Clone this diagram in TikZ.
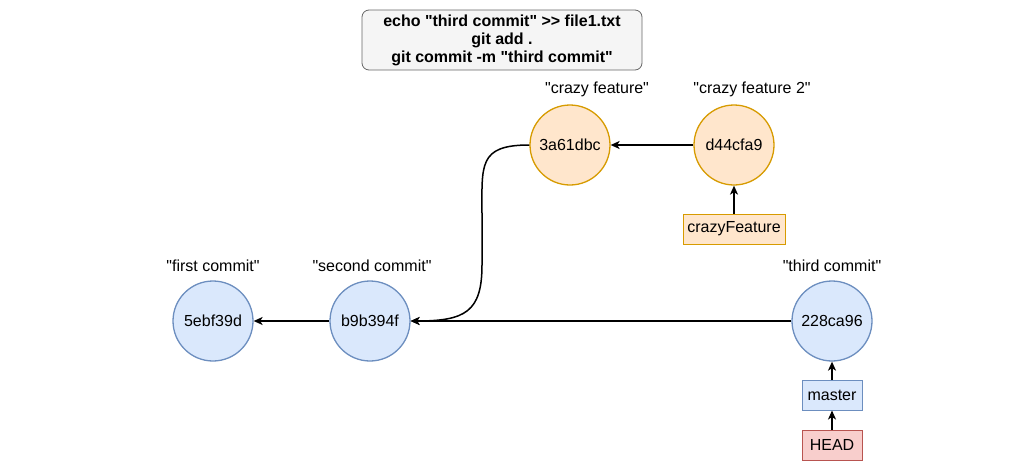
\documentclass[tikz,border=0pt]{standalone}
\usepackage{fontspec}
\setmainfont{Liberation Sans}[Ligatures=TeXOff]
\usetikzlibrary{arrows.meta}
\definecolor{bluefill}{HTML}{DAE8FC}
\definecolor{bluedraw}{HTML}{6C8EBF}
\definecolor{orfill}{HTML}{FFE6CC}
\definecolor{ordraw}{HTML}{D79B00}
\definecolor{redfill}{HTML}{F8CECC}
\definecolor{reddraw}{HTML}{B85450}
\definecolor{greyfill}{HTML}{F5F5F5}
\definecolor{greydraw}{HTML}{666666}
\newcommand{\dq}{\symbol{34}}
\tikzset{
  txt/.style={font=\fontsize{16}{18}\selectfont, inner sep=0pt},
  commitb/.style={circle, minimum size=80pt, inner sep=0pt, draw=bluedraw, fill=bluefill, line width=1.3pt, txt},
  commito/.style={circle, minimum size=80pt, inner sep=0pt, draw=ordraw, fill=orfill, line width=1.3pt, txt},
  refbox/.style={rectangle, minimum height=30pt, inner sep=0pt, line width=1pt, txt},
  conn/.style={line width=1.5pt, -{Stealth[length=9pt,width=8pt,inset=2.5pt]}},
}
\begin{document}
\begin{tikzpicture}[x=1pt,y=-1pt]
\useasboundingbox (0,0) rectangle (1010,472);
\node[rectangle, rounded corners=7pt, draw=greydraw, fill=greyfill, minimum width=280pt, minimum height=60pt, align=center, font=\bfseries\fontsize{16}{18}\selectfont, line width=0.8pt] (cmd) at (502,40) {echo \dq third commit\dq{} >{}> file1.txt\\git add .\\git commit -m \dq third commit\dq};

\node[commitb] (c1) at (213,321) {5ebf39d};
\node[commitb] (c2) at (370,321) {b9b394f};
\node[commitb] (c3) at (832,321) {228ca96};
\node[commito] (f1) at (570,145) {3a61dbc};
\node[commito] (f2) at (734,145) {d44cfa9};

\node[txt] (l1) at (213,266) {\dq first commit\dq};
\node[txt] (l2) at (372,266) {\dq second commit\dq};
\node[txt] (l3) at (832,266) {\dq third commit\dq};
\node[txt] (l4) at (597,89) {\dq crazy feature\dq};
\node[txt] (l5) at (752,89) {\dq crazy feature 2\dq};

\node[refbox, draw=ordraw, fill=orfill, minimum width=102pt] (cf) at (734,229) {crazyFeature};
\node[refbox, draw=bluedraw, fill=bluefill, minimum width=60pt] (master) at (832,395) {master};
\node[refbox, draw=reddraw, fill=redfill, minimum width=60pt] (head) at (832,445) {HEAD};

\draw[conn] (c2) -- (c1);
\draw[conn] (c3) -- (c2);
\draw[conn] (f2) -- (f1);
\draw[conn] (cf) -- (f2);
\draw[conn] (master) -- (c3);
\draw[conn] (head) -- (master);
\draw[conn] (f1.west) .. controls (478,145) and (482,165) .. (482,215) -- (482,265) .. controls (482,312) and (465,321) .. (c2.east);
\end{tikzpicture}
\end{document}
